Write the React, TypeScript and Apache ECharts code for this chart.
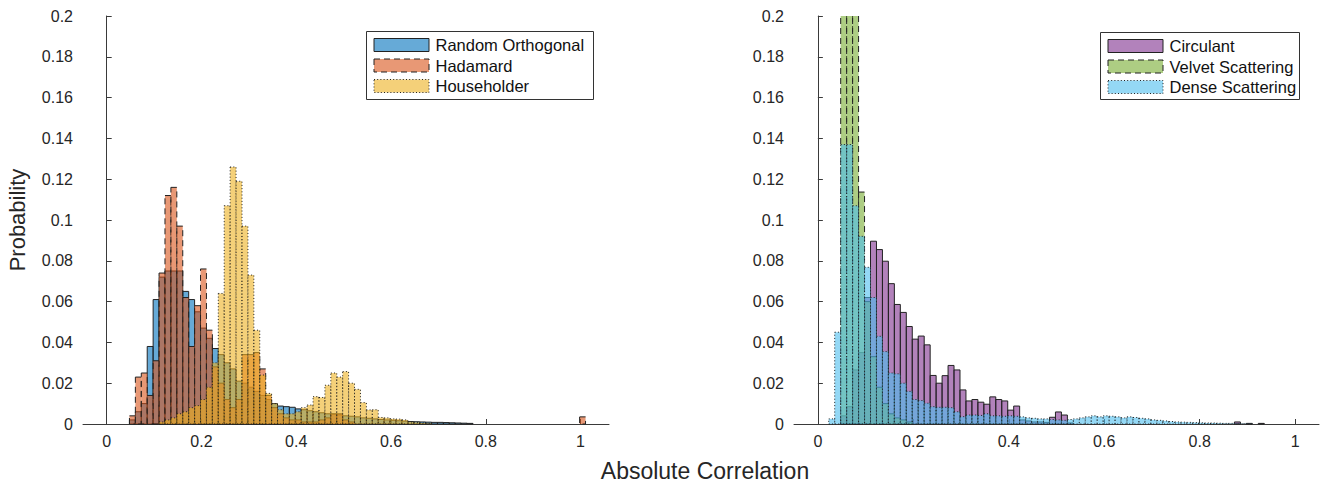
import React, { useEffect, useRef } from "react";
import * as echarts from "echarts";

// ---------------- data ----------------
const BIN_WIDTH = 0.0125;
const LEFT_FIRST_EDGE = 0.048;
const RIGHT_FIRST_EDGE = -0.0022;

const xTickValues = [0, 0.2, 0.4, 0.6, 0.8, 1];
const leftXRange = [-0.05, 1.06];
const rightXRange = [-0.05, 1.05];
const yRange = [0, 0.2];
const yStep = 0.02;

const leftNames = ["Random Orthogonal", "Hadamard", "Householder"];
const rightNames = ["Circulant", "Velvet Scattering", "Dense Scattering"];

// left panel, bins from LEFT_FIRST_EDGE
const randomOrthogonal = [
  0.002, 0.006, 0.010, 0.038, 0.061, 0.072, 0.075, 0.075, 0.075, 0.065,
  0.061, 0.055, 0.047, 0.042, 0.037, 0.034, 0.030, 0.027, 0.021, 0.020,
  0.018, 0.016, 0.014, 0.012, 0.010, 0.0088, 0.0085, 0.0082, 0.0074, 0.0070,
  0.0065, 0.0060, 0.0055, 0.0050, 0.0048, 0.0045, 0.0040, 0.0038, 0.0035, 0.0030,
  0.0028, 0.0025, 0.0022, 0.0020, 0.0018, 0.0016, 0.0014, 0.0012, 0.0011, 0.0010,
  0.0009, 0.0008, 0.0008, 0.0007, 0.0006, 0.0005, 0.0004, 0.0003,
];
const hadamard = [
  0.004, 0.023, 0.025, 0.014, 0.031, 0.074, 0.112, 0.116, 0.097, 0.062,
  0.038, 0.058, 0.076, 0.046, 0.028, 0.020, 0.012, 0.008, 0.012, 0.034,
  0.034, 0.035, 0.027, 0.014, 0.008, 0.005, 0.003, 0.002, 0.002, 0.001,
  0.001, 0.001, 0.002, 0.003, 0.005, 0.005, 0.002, 0.001, 0, 0,
  0, 0, 0, 0, 0, 0, 0, 0, 0, 0,
  0, 0, 0, 0, 0, 0, 0, 0, 0, 0,
  0, 0, 0, 0, 0, 0, 0, 0, 0, 0,
  0, 0, 0, 0, 0, 0, 0.0035,
];
const householder = [
  0, 0, 0, 0, 0, 0.001, 0.002, 0.003, 0.005, 0.006,
  0.008, 0.009, 0.012, 0.018, 0.030, 0.064, 0.107, 0.126, 0.119, 0.097,
  0.073, 0.046, 0.024, 0.015, 0.010, 0.007, 0.005, 0.005, 0.006, 0.008,
  0.0093, 0.0134, 0.013, 0.019, 0.025, 0.023, 0.0257, 0.020, 0.017, 0.0105,
  0.0069, 0.007, 0.0032, 0.003, 0.0025, 0.0024, 0.002, 0.001, 0.0008, 0.0005,
  0.0003,
];

// right panel, bins from RIGHT_FIRST_EDGE
const circulant = [
  0, 0, 0, 0, 0.004, 0.0085, 0.0265, 0.035, 0.062, 0.0896,
  0.0855, 0.0798, 0.0688, 0.0586, 0.0547, 0.0478, 0.0416, 0.0431, 0.0388, 0.0238,
  0.020, 0.0237, 0.0287, 0.0265, 0.0167, 0.0113, 0.012, 0.0107, 0.0097, 0.0133,
  0.012, 0.0113, 0.0068, 0.0088, 0.002, 0.0015, 0.001, 0.001, 0.0008, 0.0033,
  0.0059, 0.0044, 0.0005, 0, 0, 0, 0, 0, 0, 0,
  0, 0, 0, 0, 0, 0, 0, 0, 0, 0,
  0, 0, 0, 0, 0, 0, 0, 0, 0, 0,
  0.001, 0, 0.0003, 0, 0.0003,
];
const velvetScattering = [
  0, 0, 0, 0, 0.26, 0.26, 0.26, 0.1137, 0.060, 0.033,
  0.018, 0.010, 0.005, 0.003, 0.002, 0.001,
];
const denseScattering = [
  0, 0, 0.0025, 0.045, 0.137, 0.137, 0.107, 0.092, 0.0768, 0.062,
  0.043, 0.0355, 0.025, 0.0246, 0.020, 0.016, 0.012, 0.0115, 0.0102, 0.0085,
  0.0082, 0.0082, 0.008, 0.006, 0.0036, 0.0044, 0.0044, 0.0042, 0.005, 0.004,
  0.004, 0.0038, 0.004, 0.0038, 0.0035, 0.003, 0.0028, 0.0025, 0.0025, 0.0022,
  0.002, 0.0018, 0.0022, 0.0025, 0.003, 0.0035, 0.004, 0.0035, 0.004, 0.0038,
  0.0035, 0.003, 0.0035, 0.0032, 0.0028, 0.0025, 0.002, 0.0018, 0.0015, 0.0012,
  0.001, 0.0009, 0.0008, 0.0007, 0.0006, 0.0005, 0.0005, 0.0004, 0.0003, 0.0003,
  0.0002, 0.0002, 0.0001,
];

// ---------------- styles ----------------
const FONT = "'Liberation Sans', Arial, Helvetica, sans-serif";
const INK = "#262626";
const AXIS = "#3a3a3a";
const EDGE = "#222222";

const styleFor = {
  solid: [] as number[],
  dashed: [6, 4],
  dotted: [1, 2.2],
};

const leftStyles = [
  { color: "rgba(0,114,189,0.6)", dash: styleFor.solid },
  { color: "rgba(217,83,25,0.6)", dash: styleFor.dashed },
  { color: "rgba(237,177,32,0.6)", dash: styleFor.dotted },
];
const rightStyles = [
  { color: "rgba(126,47,142,0.6)", dash: styleFor.solid },
  { color: "rgba(119,172,48,0.6)", dash: styleFor.dashed },
  { color: "rgba(77,190,238,0.6)", dash: styleFor.dotted },
];

function toBins(firstEdge: number, values: number[]) {
  const out: number[][] = [];
  values.forEach((v, i) => {
    if (v > 0) out.push([firstEdge + i * BIN_WIDTH, firstEdge + (i + 1) * BIN_WIDTH, v]);
  });
  return out;
}

function makeRender(fill: string, dash: number[]) {
  return (params: any, api: any) => {
    const x0 = api.value(0);
    const x1 = api.value(1);
    const h = api.value(2);
    const cs = params.coordSys;
    const pb = api.coord([x0, 0]);
    const pt = api.coord([x1, h]);
    const left = pb[0];
    const right = pt[0];
    const bottom = pb[1];
    let top = pt[1];
    const clipped = top < cs.y;
    if (clipped) top = cs.y;
    const lineStyle = {
      stroke: EDGE,
      lineWidth: 1,
      lineDash: dash.length ? dash : null,
      fill: null,
    };
    const children: any[] = [
      {
        type: "rect",
        shape: { x: left, y: top, width: right - left, height: bottom - top },
        style: { fill, stroke: null },
      },
    ];
    if (clipped) {
      children.push({
        type: "polyline",
        shape: { points: [[left, bottom], [left, top]] },
        style: lineStyle,
      });
      children.push({
        type: "polyline",
        shape: { points: [[right, top], [right, bottom]] },
        style: lineStyle,
      });
      children.push({
        type: "polyline",
        shape: { points: [[left, bottom], [right, bottom]] },
        style: lineStyle,
      });
    } else {
      children.push({
        type: "rect",
        shape: { x: left, y: top, width: right - left, height: bottom - top },
        style: lineStyle,
      });
    }
    return { type: "group", children };
  };
}

function fmt(v: number) {
  return String(Number(v.toFixed(2)));
}

function xAxisFor(gridIndex: number, range: number[]) {
  return {
    type: "value",
    gridIndex,
    min: range[0],
    max: range[1],
    axisLine: { show: true, onZero: false, lineStyle: { color: AXIS, width: 1 } },
    axisTick: {
      show: true,
      inside: true,
      length: 5,
      customValues: xTickValues,
      lineStyle: { color: AXIS, width: 1 },
    },
    axisLabel: {
      customValues: xTickValues,
      formatter: (v: number) => fmt(v),
      fontSize: 16,
      color: INK,
      fontFamily: FONT,
      margin: 9,
    },
    splitLine: { show: false },
  };
}

function yAxisFor(gridIndex: number, withName: boolean) {
  return {
    type: "value",
    gridIndex,
    min: yRange[0],
    max: yRange[1],
    interval: yStep,
    name: withName ? "Probability" : "",
    nameLocation: "middle",
    nameGap: 55,
    nameTextStyle: { fontSize: 22, color: INK, fontFamily: FONT },
    axisLine: { show: true, lineStyle: { color: AXIS, width: 1 } },
    axisTick: { show: true, inside: true, length: 5, lineStyle: { color: AXIS, width: 1 } },
    axisLabel: {
      formatter: (v: number) => fmt(v),
      fontSize: 16,
      color: INK,
      fontFamily: FONT,
      margin: 10,
    },
    splitLine: { show: false },
  };
}

function legendGraphic(
  boxX: number,
  boxY: number,
  boxW: number,
  boxH: number,
  names: string[],
  styles: { color: string; dash: number[] }[]
) {
  const children: any[] = [
    {
      type: "rect",
      shape: { x: boxX, y: boxY, width: boxW, height: boxH },
      style: { fill: "#ffffff", stroke: "#333333", lineWidth: 1 },
    },
  ];
  names.forEach((name, i) => {
    const cy = boxY + 13.5 + i * 20.5;
    children.push({
      type: "rect",
      shape: { x: boxX + 7.5, y: cy - 6.5, width: 55, height: 13 },
      style: {
        fill: styles[i].color,
        stroke: EDGE,
        lineWidth: 1,
        lineDash: styles[i].dash.length ? styles[i].dash : null,
      },
    });
    children.push({
      type: "text",
      x: boxX + 69,
      y: cy,
      style: {
        text: name,
        fontSize: 16.5,
        fontFamily: FONT,
        fill: "#111111",
        textVerticalAlign: "middle",
        textAlign: "left",
      },
    });
  });
  return { type: "group", children };
}

export default function App() {
  const ref = useRef<HTMLDivElement>(null);

  useEffect(() => {
    document.body.style.margin = "0";
    const chart = echarts.init(ref.current!, null, { renderer: "svg" });

    const leftSeriesData = [randomOrthogonal, hadamard, householder];
    const rightSeriesData = [circulant, velvetScattering, denseScattering];

    const series: any[] = [];
    leftSeriesData.forEach((vals, i) => {
      series.push({
        type: "custom",
        name: leftNames[i],
        xAxisIndex: 0,
        yAxisIndex: 0,
        renderItem: makeRender(leftStyles[i].color, leftStyles[i].dash),
        data: toBins(LEFT_FIRST_EDGE, vals),
        encode: { x: [0, 1], y: 2 },
        z: 2 + i,
      });
    });
    rightSeriesData.forEach((vals, i) => {
      series.push({
        type: "custom",
        name: rightNames[i],
        xAxisIndex: 1,
        yAxisIndex: 1,
        renderItem: makeRender(rightStyles[i].color, rightStyles[i].dash),
        data: toBins(RIGHT_FIRST_EDGE, vals),
        encode: { x: [0, 1], y: 2 },
        z: 2 + i,
      });
    });

    chart.setOption({
      animation: false,
      backgroundColor: "#ffffff",
      grid: [
        { left: 83, width: 526, top: 16, height: 408 },
        { left: 794, width: 525, top: 16, height: 408 },
      ],
      xAxis: [xAxisFor(0, leftXRange), xAxisFor(1, rightXRange)],
      yAxis: [yAxisFor(0, true), yAxisFor(1, false)],
      series,
      graphic: [
        legendGraphic(366.5, 31.5, 227, 68, leftNames, leftStyles),
        legendGraphic(1100.5, 32.5, 199, 67, rightNames, rightStyles),
        {
          type: "text",
          x: 705,
          y: 471,
          style: {
            text: "Absolute Correlation",
            fontSize: 23,
            fontFamily: FONT,
            fill: INK,
            textAlign: "center",
            textVerticalAlign: "middle",
          },
        },
      ],
    });

    return () => chart.dispose();
  }, []);

  return (
    <div
      ref={ref}
      style={{ position: "fixed", left: 0, top: 0, width: 1322, height: 485, background: "#fff" }}
    />
  );
}
